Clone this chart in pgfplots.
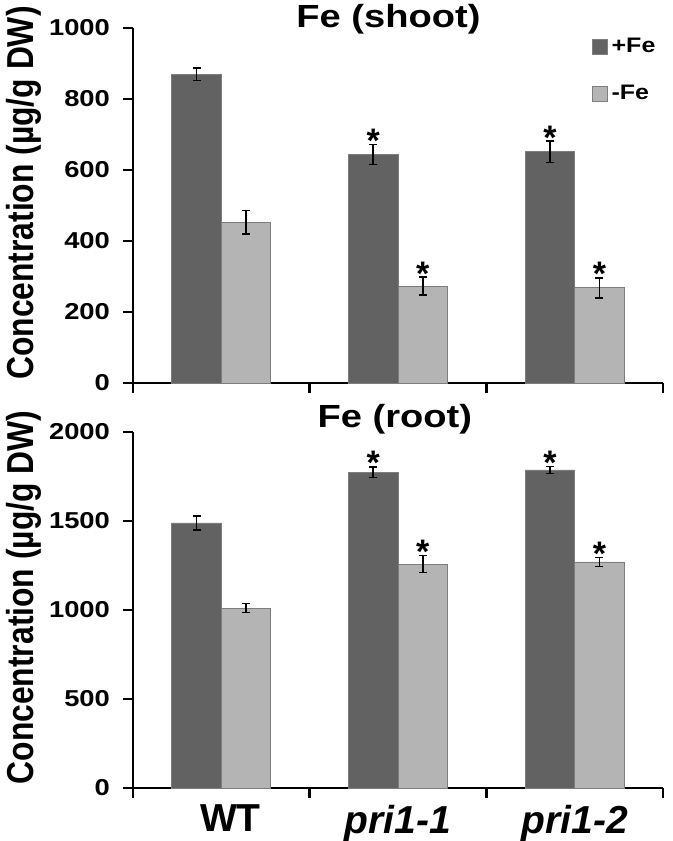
\documentclass[border=0pt]{standalone}
\usepackage{fontspec}
\setmainfont{Liberation Sans}
\newfontfamily\wide[FakeStretch=1.19]{Liberation Sans}
\usepackage{pgfplots}
\usepackage{pgfplotstable}
\pgfplotsset{compat=1.18}

\definecolor{plusfe}{RGB}{98,98,98}
\definecolor{minusfe}{RGB}{180,180,180}
\definecolor{edge}{RGB}{125,125,125}

% x  shoot  shoot err  root  root err
\pgfplotstableread{
x shoot serr root rerr
0 870 18 1489 40
1 644 28 1775 30
2 651 30 1787 20
}\plusdata
\pgfplotstableread{
x shoot serr root rerr
0 453 33 1011 25
1 273 25 1258 48
2 268 28 1270 26
}\minusdata

\pgfplotsset{
  fe axis/.style={
    scale only axis, width=265pt, xmin=-0.5, xmax=2.5, ymin=0,
    axis x line*=bottom, axis y line*=left,
    axis line style={-, line width=1.4pt},
    tick align=outside, major tick length=5pt,
    ytick style={line width=1.4pt, black},
    xtick={0,1,2}, xtick style={draw=none},
    extra x ticks={-0.5,0.5,1.5,2.5}, extra x tick labels={},
    extra x tick style={xtick style={draw=black, line width=1.4pt}},
    ybar=0pt, bar width=0.28,
    tick label style={font=\wide\bfseries\fontsize{11.5}{11.5}\selectfont},
    yticklabel style={xshift=-3pt},
    /pgf/number format/assume math mode=true, /pgf/number format/1000 sep={},
    ylabel={\scalebox{1}[1.18]{Concentration (µg/g DW)}},
    ylabel style={font=\bfseries\fontsize{15.9}{15.9}\selectfont, at={(ticklabel cs:0.535)}},
    ylabel shift=-3pt,
    error bars/y dir=both, error bars/y explicit,
    error bars/error bar style={line width=0.8pt, black},
    error bars/error mark options={rotate=90, mark size=2pt, line width=0.8pt, black},
    clip=false,
  },
}
\tikzset{
  star/.style={font=\bfseries\fontsize{17}{17}\selectfont, anchor=base, inner sep=0pt, yshift=-4pt},
  ttl/.style={font=\wide\bfseries\fontsize{16}{16}\selectfont, anchor=base, inner sep=0pt},
}

\begin{document}
\begin{tikzpicture}
% shoot
\begin{axis}[fe axis, at={(0,202.5pt)}, anchor=south west, height=177.5pt,
  ymax=1000, ytick={0,200,...,1000}, xticklabels={},
  legend style={draw=none, fill=none, at={(0.865,0.985)}, anchor=north west,
    font=\wide\bfseries\fontsize{10.5}{10.5}\selectfont, row sep=11pt, inner sep=0pt},
  legend cell align=left,
  legend image code/.code={\fill[#1] (0pt,-3.75pt) rectangle (7.5pt,3.75pt);},
]
\addplot[fill=plusfe, draw=edge, line width=0.4pt] table[x=x, y=shoot, y error=serr] {\plusdata};
\addplot[fill=minusfe, draw=edge, line width=0.4pt] table[x=x, y=shoot, y error=serr] {\minusdata};
\legend{+Fe,-Fe}
\node[star] at (axis cs:0.86,672) {*};
\node[star] at (axis cs:1.14,298) {*};
\node[star] at (axis cs:1.86,681) {*};
\node[star] at (axis cs:2.14,296) {*};
\node[ttl] at (rel axis cs:0.482,1) {Fe (shoot)};
\end{axis}
% root
\begin{axis}[fe axis, at={(0,0)}, anchor=south west, height=178pt,
  ymax=2000, ytick={0,500,...,2000},
  xticklabels={\hspace*{9pt}WT,\textit{pri1-1},\textit{pri1-2}},
  x tick label style={font=\bfseries\fontsize{19.5}{19.5}\selectfont},
]
\addplot[fill=plusfe, draw=edge, line width=0.4pt] table[x=x, y=root, y error=rerr] {\plusdata};
\addplot[fill=minusfe, draw=edge, line width=0.4pt] table[x=x, y=root, y error=rerr] {\minusdata};
\node[star] at (axis cs:0.86,1805) {*};
\node[star] at (axis cs:1.14,1306) {*};
\node[star] at (axis cs:1.86,1807) {*};
\node[star] at (axis cs:2.14,1296) {*};
\node[ttl, yshift=2pt] at (rel axis cs:0.494,1) {Fe (root)};
\end{axis}
\pgfresetboundingbox
\path (-66.5pt,-26.5pt) rectangle (270pt,394pt);
\end{tikzpicture}
\end{document}
